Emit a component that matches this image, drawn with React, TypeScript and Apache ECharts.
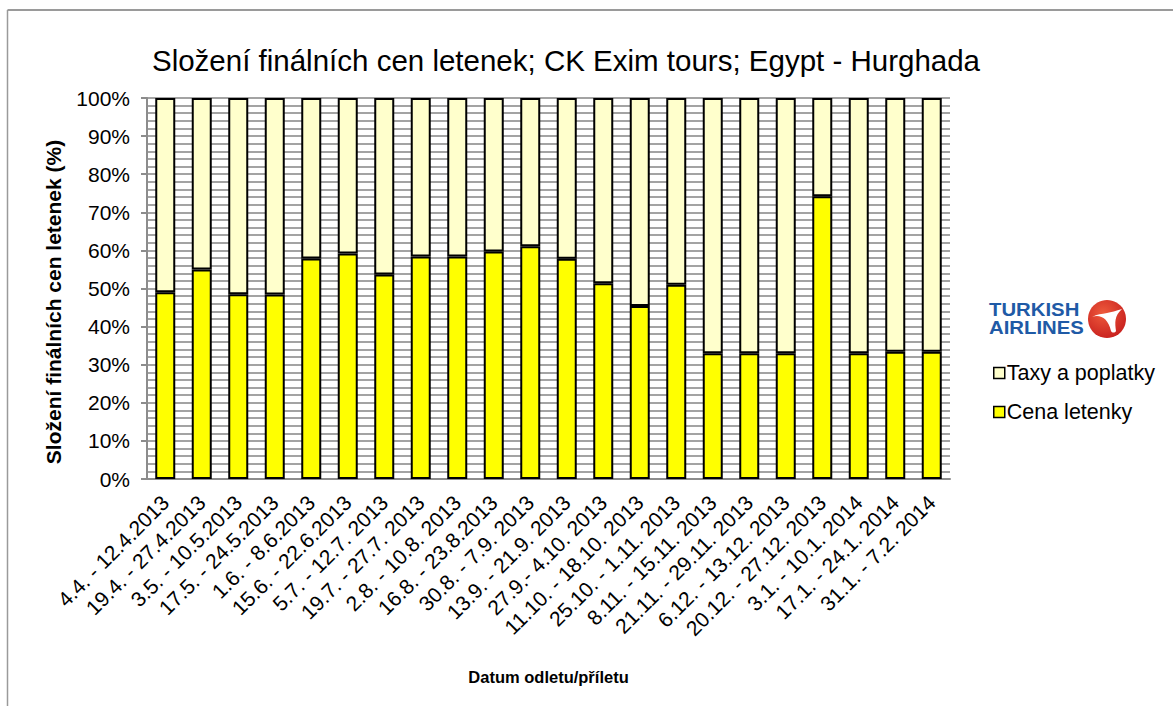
import React, { useEffect, useRef } from "react";
import * as echarts from "echarts";

const categories = [
  "4.4. - 12.4.2013",
  "19.4. - 27.4.2013",
  "3.5. - 10.5.2013",
  "17.5. - 24.5.2013",
  "1.6. - 8.6.2013",
  "15.6. - 22.6.2013",
  "5.7. - 12.7. 2013",
  "19.7. - 27.7. 2013",
  "2.8. - 10.8. 2013",
  "16.8. - 23.8.2013",
  "30.8. - 7.9. 2013",
  "13.9. - 21.9. 2013",
  "27.9.- 4.10. 2013",
  "11.10. - 18.10. 2013",
  "25.10. - 1.11. 2013",
  "8.11. - 15.11. 2013",
  "21.11. - 29.11. 2013",
  "6.12. - 13.12. 2013",
  "20.12. - 27.12. 2013",
  "3.1. - 10.1. 2014",
  "17.1. - 24.1. 2014",
  "31.1. - 7.2. 2014",
];

const cenaLetenky = [
  49.0, 55.0, 48.5, 48.4, 57.9, 59.2, 53.7, 58.4, 58.4, 59.7, 61.1, 57.8,
  51.4, 45.4, 51.0, 33.0, 33.0, 33.0, 74.2, 33.0, 33.4, 33.4,
];

const taxyAPoplatky = [
  51.0, 45.0, 51.5, 51.6, 42.1, 40.8, 46.3, 41.6, 41.6, 40.3, 38.9, 42.2,
  48.6, 54.6, 49.0, 67.0, 67.0, 67.0, 25.8, 67.0, 66.6, 66.6,
];

const yTicks = [0, 10, 20, 30, 40, 50, 60, 70, 80, 90, 100];

const titleText = "Složení finálních cen letenek; CK Exim tours; Egypt - Hurghada";
const yAxisName = "Složení finálních cen letenek (%)";
const xAxisName = "Datum odletu/příletu";
const seriesNames = ["Taxy a poplatky", "Cena letenky"];
const logoLines = ["TURKISH", "AIRLINES"];

const birdPath =
  "M -15 -2 C -7 -5 1 -1 4 12 C 5 14 8 14 9 12 C 8 4 7 -3 15 -10 C 9 -8 4 -7 0 -6 C -5 -5 -10 -5 -15 -2 Z";

echarts.graphic.registerShape(
  "thyBird",
  echarts.graphic.extendPath(birdPath, {}) as any
);

const FONT = "'Liberation Sans', Arial, sans-serif";

export default function App() {
  const ref = useRef<HTMLDivElement>(null);

  useEffect(() => {
    if (!ref.current) return;
    const chart = echarts.init(ref.current, null, { renderer: "svg" });
    const option: any = {
      animation: false,
      backgroundColor: "#ffffff",
      textStyle: { fontFamily: FONT, color: "#000" },
      title: {
        text: titleText,
        left: 561,
        top: 40,
        textAlign: "center",
        textStyle: {
          fontFamily: FONT,
          fontSize: 29.5,
          fontWeight: "normal",
          color: "#000",
        },
      },
      legend: {
        orient: "vertical",
        left: 988,
        top: 357,
        itemWidth: 11,
        itemHeight: 11,
        itemGap: 17,
        icon: "rect",
        data: seriesNames,
        textStyle: { fontFamily: FONT, fontSize: 21.5, color: "#000", padding: [0, 0, 0, -3] },
        itemStyle: { borderColor: "#000", borderWidth: 1.5 },
      },
      grid: { left: 147, top: 98, width: 803, height: 381 },
      xAxis: {
        type: "category",
        data: categories,
        name: xAxisName,
        nameLocation: "middle",
        nameGap: 189,
        nameTextStyle: { fontFamily: FONT, fontSize: 16.5, fontWeight: "bold", color: "#000" },
        axisLine: { show: true, lineStyle: { color: "#8c8c8c", width: 2 } },
        axisTick: { show: false },
        axisLabel: {
          rotate: 45,
          margin: 20,
          interval: 0,
          fontFamily: FONT,
          fontSize: 21,
          color: "#000",
        },
      },
      yAxis: {
        type: "value",
        min: 0,
        max: 100,
        interval: 10,
        axisLine: { show: true, lineStyle: { color: "#8c8c8c", width: 2 } },
        axisTick: { show: true, inside: false, length: 6, lineStyle: { color: "#8c8c8c", width: 2 } },
        axisLabel: {
          formatter: (v: number) => (yTicks.includes(v) ? v + "%" : ""),
          margin: 17,
          fontFamily: FONT,
          fontSize: 21,
          color: "#000",
        },
        splitLine: { show: true, lineStyle: { color: "#a3a3a3", width: 2 } },
        minorTick: { show: false, splitNumber: 5 },
        minorSplitLine: { show: true, lineStyle: { color: "#a3a3a3", width: 2 } },
      },
      series: [
        {
          name: seriesNames[1],
          type: "bar",
          stack: "total",
          data: cenaLetenky,
          barWidth: 20,
          itemStyle: { color: "#ffff00", borderColor: "#000", borderWidth: 2 },
        },
        {
          name: seriesNames[0],
          type: "bar",
          stack: "total",
          data: taxyAPoplatky,
          barWidth: 20,
          itemStyle: { color: "#ffffcc", borderColor: "#000", borderWidth: 2 },
        },
      ],
      graphic: [
        {
          type: "line",
          shape: { x1: 7.5, y1: 10, x2: 1173, y2: 10 },
          style: { stroke: "#9a9a9a", lineWidth: 2 },
        },
        {
          type: "line",
          shape: { x1: 7.5, y1: 10, x2: 7.5, y2: 706 },
          style: { stroke: "#9a9a9a", lineWidth: 1.5 },
        },
        {
          type: "text",
          x: 53,
          y: 302,
          rotation: Math.PI / 2,
          style: {
            text: yAxisName,
            fontFamily: FONT,
            fontSize: 21,
            fontWeight: "bold",
            align: "center",
            verticalAlign: "middle",
            fill: "#000",
          },
        },
        {
          type: "text",
          x: 989,
          y: 301,
          scaleX: 1.13,
          style: {
            text: logoLines[0],
            fontFamily: FONT,
            fontSize: 18,
            fontWeight: "bold",
            lineHeight: 18,
            verticalAlign: "top",
            fill: "#1f5aa6",
          },
        },
        {
          type: "text",
          x: 989,
          y: 319,
          scaleX: 1.13,
          style: {
            text: logoLines[1],
            fontFamily: FONT,
            fontSize: 18,
            fontWeight: "bold",
            lineHeight: 18,
            verticalAlign: "top",
            fill: "#1f5aa6",
          },
        },
        {
          type: "circle",
          shape: { cx: 1107, cy: 319, r: 19 },
          style: {
            fill: {
              type: "radial",
              x: 0.4,
              y: 0.35,
              r: 0.7,
              colorStops: [
                { offset: 0, color: "#ee5a3c" },
                { offset: 1, color: "#c8201e" },
              ],
            },
          },
        },
        {
          type: "thyBird",
          x: 1107,
          y: 319,
          scaleX: 1,
          scaleY: 1,
          style: { fill: "#ffffff" },
        },
      ],
    };
    chart.setOption(option);
    return () => chart.dispose();
  }, []);

  return (
    <div
      ref={ref}
      style={{ position: "absolute", left: 0, top: 0, width: 1173, height: 706 }}
    />
  );
}
